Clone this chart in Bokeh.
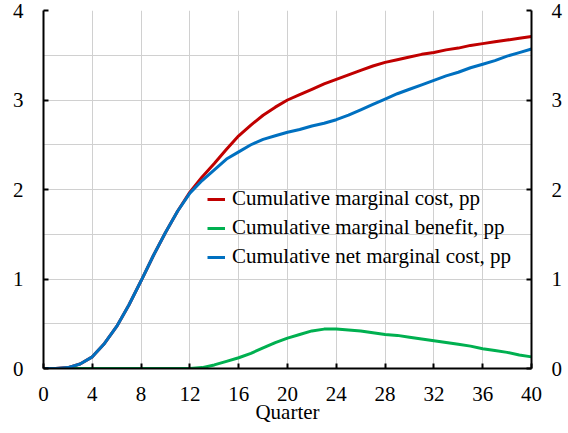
from bokeh.plotting import figure
from bokeh.models import LinearAxis, FixedTicker, Legend, LegendItem, Range1d, ColumnDataSource
from bokeh.embed import file_html
from bokeh.resources import INLINE

quarters = list(range(0, 41))
marginal_cost = [0, 0, 0.01, 0.05, 0.13, 0.28, 0.47, 0.71, 0.98, 1.26, 1.52, 1.76, 1.97,
                 2.14, 2.29, 2.45, 2.60, 2.72, 2.83, 2.92, 3.00, 3.06, 3.12, 3.18, 3.23,
                 3.28, 3.33, 3.38, 3.42, 3.45, 3.48, 3.51, 3.53, 3.56, 3.58, 3.61, 3.63,
                 3.65, 3.67, 3.69, 3.71]
marginal_benefit = [0, 0, 0, 0, 0, 0, 0, 0, 0, 0, 0, 0, 0,
                    0.01, 0.04, 0.08, 0.12, 0.17, 0.23, 0.29, 0.34, 0.38, 0.42, 0.44, 0.44,
                    0.43, 0.42, 0.40, 0.38, 0.37, 0.35, 0.33, 0.31, 0.29, 0.27, 0.25, 0.22,
                    0.20, 0.18, 0.15, 0.13]
net_marginal_cost = [0, 0, 0.01, 0.05, 0.13, 0.28, 0.47, 0.71, 0.98, 1.26, 1.52, 1.76, 1.96,
                     2.10, 2.22, 2.34, 2.42, 2.50, 2.56, 2.60, 2.64, 2.67, 2.71, 2.74, 2.78,
                     2.83, 2.89, 2.95, 3.01, 3.07, 3.12, 3.17, 3.22, 3.27, 3.31, 3.36, 3.40,
                     3.44, 3.49, 3.53, 3.57]
x_ticks = list(range(0, 41, 4))
y_ticks = [0, 1, 2, 3, 4]
y_grid = [0, 0.5, 1, 1.5, 2, 2.5, 3, 3.5, 4]

labels = ["Cumulative marginal cost, pp", "Cumulative marginal benefit, pp",
          "Cumulative net marginal cost, pp"]
colors = ["#C00000", "#00B050", "#0070C0"]

FONT = "Liberation Serif"

p = figure(width=568, height=433, output_backend="svg", toolbar_location=None,
           x_range=Range1d(0, 40), y_range=Range1d(0, 4),
           min_border_left=43, min_border_right=37, min_border_top=10, min_border_bottom=65)
p.outline_line_color = None
p.background_fill_color = "white"

# grid
p.xgrid.ticker = FixedTicker(ticks=x_ticks)
p.ygrid.ticker = FixedTicker(ticks=y_grid)
for g in (p.xgrid, p.ygrid):
    g.grid_line_color = "#d0d0d0"
    g.grid_line_width = 1

def style_axis(ax):
    ax.axis_line_color = "black"
    ax.axis_line_width = 2
    ax.major_tick_line_color = "black"
    ax.major_tick_line_width = 2
    ax.major_tick_in = 5
    ax.major_tick_out = 0
    ax.minor_tick_line_color = None
    ax.major_label_text_font = FONT
    ax.major_label_text_font_size = "21px"
    ax.major_label_text_color = "black"
    ax.axis_label_text_font = FONT
    ax.axis_label_text_font_size = "21px"
    ax.axis_label_text_font_style = "normal"
    ax.axis_label_text_color = "black"

p.xaxis.ticker = FixedTicker(ticks=x_ticks)
p.xaxis.axis_label = "Quarter"
p.yaxis.ticker = FixedTicker(ticks=y_ticks)
style_axis(p.xaxis[0])
style_axis(p.yaxis[0])
p.xaxis.major_label_standoff = 18
p.xaxis.axis_label_standoff = -4
p.yaxis.major_label_standoff = 20

right = LinearAxis(ticker=FixedTicker(ticks=y_ticks))
style_axis(right)
right.major_label_standoff = 20
p.add_layout(right, "right")

src = ColumnDataSource(dict(q=quarters, cost=marginal_cost, benefit=marginal_benefit,
                            net=net_marginal_cost))
r_benefit = p.line("q", "benefit", source=src, line_color=colors[1], line_width=3)
r_cost = p.line("q", "cost", source=src, line_color=colors[0], line_width=3)
r_net = p.line("q", "net", source=src, line_color=colors[2], line_width=3)

legend = Legend(items=[LegendItem(label=labels[0], renderers=[r_cost]),
                       LegendItem(label=labels[1], renderers=[r_benefit]),
                       LegendItem(label=labels[2], renderers=[r_net])],
                location=(164, 99))
legend.background_fill_alpha = 0
legend.border_line_color = None
legend.padding = 0
legend.margin = 0
legend.spacing = 4
legend.glyph_width = 18
legend.glyph_height = 20
legend.label_height = 20
legend.label_standoff = 7
legend.label_text_font = FONT
legend.label_text_font_size = "21px"
legend.label_text_color = "black"
p.add_layout(legend, "center")

open("out.html", "w").write(file_html(p, INLINE))
